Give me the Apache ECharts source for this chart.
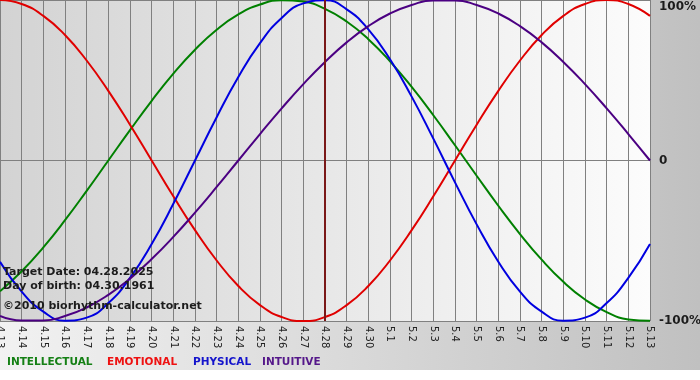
<!DOCTYPE html>
<html>
<head>
<meta charset="utf-8">
<script src="https://cdn.jsdelivr.net/npm/echarts@6/dist/echarts.min.js"></script>
<style>
  html, body { margin: 0; padding: 0; background: #fff; }
  #bio-chart { width: 700px; height: 380px; }
</style>
</head>
<body>
<div id="bio-chart"></div>
<script>
var days = ['4.13','4.14','4.15','4.16','4.17','4.18','4.19','4.20','4.21','4.22','4.23','4.24','4.25','4.26','4.27','4.28','4.29','4.30',
  '5.1','5.2','5.3','5.4','5.5','5.6','5.7','5.8','5.9','5.10','5.11','5.12','5.13'];

var intellectual = [-81.5,-69.0,-54.1,-37.2,-18.9,0,18.9,37.2,54.1,69.0,81.5,91.0,97.2,99.9,99.0,94.5,
  86.6,75.6,61.8,45.8,28.2,9.5,-9.5,-28.2,-45.8,-61.8,-75.6,-86.6,-94.5,-99.0,-99.9];
var emotional = [100,97.5,90.1,78.2,62.3,43.4,22.3,0,-22.3,-43.4,-62.3,-78.2,-90.1,-97.5,-100,-97.5,
  -90.1,-78.2,-62.3,-43.4,-22.3,0,22.3,43.4,62.3,78.2,90.1,97.5,100,97.5,90.1];
var physical = [-63.1,-81.7,-94.2,-99.8,-97.9,-88.8,-73.1,-52.0,-27.0,0,27.0,52.0,73.1,88.8,97.9,99.8,
  94.2,81.7,63.1,39.8,13.6,-13.6,-39.8,-63.1,-81.7,-94.2,-99.8,-97.9,-88.8,-73.1,-52.0];
var intuitive = [-96.9,-99.7,-99.7,-96.9,-91.6,-83.7,-73.6,-61.4,-47.6,-32.5,-16.5,0,16.5,32.5,47.6,61.4,
  73.6,83.7,91.6,96.9,99.7,99.7,96.9,91.6,83.7,73.6,61.4,47.6,32.5,16.5,0];

var targetDay = '4.28';
var infoLines = ['Target Date: 04.28.2025', 'Day of birth: 04.30.1961', '\u00a92010 biorhythm-calculator.net'];
var yTicks = [-100, 0, 100];

var bioChart = echarts.init(document.getElementById('bio-chart'));

function curve(name, data, color) {
  return {
    name: name,
    type: 'line',
    data: data,
    smooth: true,
    symbol: 'none',
    silent: true,
    lineStyle: { color: color, width: 2 },
    itemStyle: { color: color }
  };
}

var series = [
  curve('INTELLECTUAL', intellectual, '#008000'),
  curve('EMOTIONAL', emotional, '#e00000'),
  curve('PHYSICAL', physical, '#0000e0'),
  curve('INTUITIVE', intuitive, '#4b0082')
];
series[3].markLine = {
  silent: true,
  symbol: 'none',
  label: { show: false },
  lineStyle: { color: '#7a1818', width: 2, type: 'solid' },
  data: [{ xAxis: targetDay }]
};

var legendWords = [
  { text: 'INTELLECTUAL', x: 7, color: '#158015' },
  { text: 'EMOTIONAL', x: 107, color: '#ee1111' },
  { text: 'PHYSICAL', x: 193, color: '#1414cc' },
  { text: 'INTUITIVE', x: 262, color: '#55188a' }
];

var graphics = [{
  type: 'rect',
  z: -100,
  silent: true,
  shape: { x: 0, y: 0, width: 700, height: 370 },
  style: {
    fill: { type: 'linear', x: 0, y: 0, x2: 1, y2: 0,
      colorStops: [{ offset: 0, color: '#f2f2f2' }, { offset: 1, color: '#c0c0c0' }] }
  }
}];
var infoY = [272.5, 286.5, 306.5];
infoLines.forEach(function (t, i) {
  graphics.push({
    type: 'text', z: 50, silent: true,
    style: { text: t, x: 3, y: infoY[i], verticalAlign: 'middle', fill: '#1c1c1c', font: 'bold 11px "DejaVu Sans"' }
  });
});
legendWords.forEach(function (w) {
  graphics.push({
    type: 'text', silent: true,
    style: { text: w.text, x: w.x, y: 362, verticalAlign: 'middle', fill: w.color, font: 'bold 10.5px "DejaVu Sans"' }
  });
});

var option = {
  animation: false,
  grid: {
    left: 0, right: 50, top: 0, bottom: 59,
    outerBoundsMode: 'none',
    containLabel: false,
    show: true,
    borderWidth: 0,
    backgroundColor: { type: 'linear', x: 0, y: 0, x2: 1, y2: 0,
      colorStops: [{ offset: 0, color: '#d3d3d3' }, { offset: 1, color: '#fcfcfc' }] }
  },
  xAxis: {
    type: 'category',
    data: days,
    boundaryGap: false,
    axisLine: { lineStyle: { color: '#808080', width: 1 } },
    axisTick: { show: true, inside: false, length: 4, interval: 0, lineStyle: { color: '#808080' } },
    axisLabel: {
      interval: 0, rotate: -90, margin: 5,
      color: '#222', fontSize: 10, fontFamily: 'DejaVu Sans'
    },
    splitLine: { show: true, interval: 0, lineStyle: { color: '#808080', width: 1 } }
  },
  yAxis: {
    type: 'value',
    position: 'right',
    min: yTicks[0],
    max: yTicks[2],
    interval: 100,
    axisLine: { show: false },
    axisTick: { show: false },
    splitLine: { show: true, lineStyle: { color: '#808080', width: 1 } },
    axisLabel: {
      margin: 9,
      color: '#1c1c1c',
      fontSize: 12,
      fontWeight: 'bold',
      fontFamily: 'DejaVu Sans',
      formatter: function (v) {
        if (v === 100) return '{top|100%}';
        return v === 0 ? '0' : v + '%';
      },
      rich: {
        top: { fontSize: 12, fontWeight: 'bold', fontFamily: 'DejaVu Sans', color: '#1c1c1c', padding: [14, 0, 0, 0] }
      }
    }
  },
  graphic: graphics,
  series: series
};

bioChart.setOption(option);
</script>
</body>
</html>
